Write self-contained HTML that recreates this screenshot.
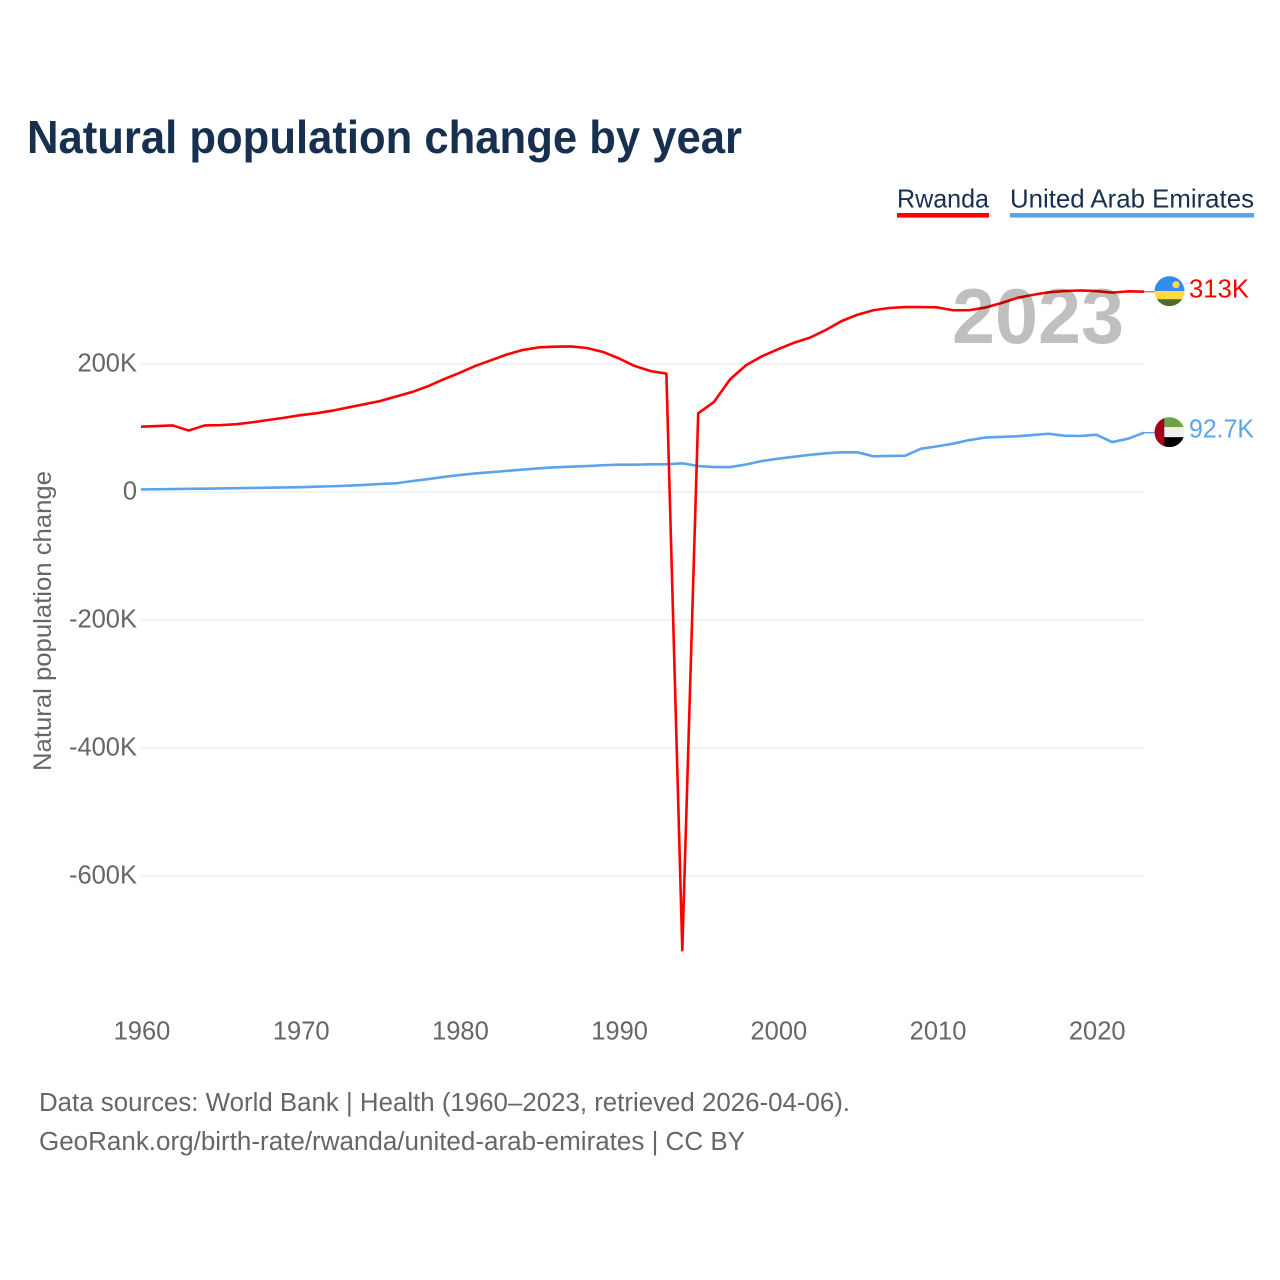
<!DOCTYPE html>
<html lang="en">
<head>
<meta charset="utf-8">
<title>Natural population change by year</title>
<style>
html,body{margin:0;padding:0;background:#fff;width:1280px;height:1280px;overflow:hidden}
svg{display:block}
text{font-family:"Liberation Sans",sans-serif}
</style>
</head>
<body>
<svg id="chart" xmlns="http://www.w3.org/2000/svg" width="1280" height="1280" viewBox="0 0 1280 1280">
  <text x="27" y="153" font-size="46" font-weight="700" fill="#17304f" textLength="715" lengthAdjust="spacingAndGlyphs">Natural population change by year</text>

  <g>
    <g>
      <text x="897" y="207.5" font-size="26" fill="#17304f" textLength="92" lengthAdjust="spacingAndGlyphs">Rwanda</text>
      <rect x="897" y="213" width="92" height="4.6" fill="#ff0000"/>
    </g>
    <g>
      <text x="1010" y="207.5" font-size="26" fill="#17304f" textLength="244" lengthAdjust="spacingAndGlyphs">United Arab Emirates</text>
      <rect x="1010" y="213" width="244" height="4.6" fill="#5ba4ec"/>
    </g>
  </g>

  <g id="grid"></g>
  <g id="yTicks"></g>
  <g id="xTicks"></g>
  <text transform="translate(51,621) rotate(-90)" text-anchor="middle" font-size="25" fill="#666666" textLength="300" lengthAdjust="spacingAndGlyphs">Natural population change</text>
  <g id="series"></g>

  <text x="952" y="343" font-size="78" font-weight="700" fill="#000000" fill-opacity="0.25" textLength="172" lengthAdjust="spacingAndGlyphs">2023</text>

  <g id="endRwanda">
    <defs>
      <clipPath id="clipFlagR"><circle cx="0" cy="0" r="15"/></clipPath>
      <clipPath id="clipFlagU"><circle cx="0" cy="0" r="15"/></clipPath>
    </defs>
    <g clip-path="url(#clipFlagR)">
      <rect x="-15" y="-15" width="30" height="15" fill="#338af3"/>
      <rect x="-15" y="0" width="30" height="8" fill="#ffda44"/>
      <rect x="-15" y="8" width="30" height="7" fill="#496e2d"/>
      <circle cx="6.5" cy="-6.5" r="3.6" fill="#ffda44"/>
    </g>
  </g>
  <g id="endUae">
    <g clip-path="url(#clipFlagU)">
      <rect x="-15" y="-15" width="30" height="10" fill="#6da544"/>
      <rect x="-15" y="-5" width="30" height="10" fill="#f0f0f0"/>
      <rect x="-15" y="5" width="30" height="10" fill="#000000"/>
      <rect x="-15" y="-15" width="9.8" height="30" fill="#a2001d"/>
    </g>
  </g>

  <text x="39" y="1111" font-size="25.5" fill="#666666" textLength="811" lengthAdjust="spacingAndGlyphs">Data sources: World Bank | Health (1960–2023, retrieved 2026-04-06).</text>
  <text x="39" y="1150" font-size="25.5" fill="#666666" textLength="706" lengthAdjust="spacingAndGlyphs">GeoRank.org/birth-rate/rwanda/united-arab-emirates | CC BY</text>
</svg>
<script>
const years = [1960,1961,1962,1963,1964,1965,1966,1967,1968,1969,1970,1971,1972,1973,1974,1975,1976,1977,1978,1979,1980,1981,1982,1983,1984,1985,1986,1987,1988,1989,1990,1991,1992,1993,1994,1995,1996,1997,1998,1999,2000,2001,2002,2003,2004,2005,2006,2007,2008,2009,2010,2011,2012,2013,2014,2015,2016,2017,2018,2019,2020,2021,2022,2023];
const rwandaValues = [102,103,104,96,104,104.5,106,109,112.5,116,120,123,127,132,137,142,149,156,165,176,186,197,206,215,222,226,227,227.5,225,219,209,197,189,185,-716,123,141,176,198,212,223,233,241,253,267,277,284,287.5,289,289,288.5,284,284,288,295,303,308,312,314,315,314,311.5,313.5,313];
const uaeValues = [4,4.3,4.6,4.9,5.2,5.5,5.9,6.3,6.7,7.1,7.6,8.3,9,9.8,11,12.5,13.5,17,20,23.5,26.5,29,31,33,35,37,38.5,39.5,40.5,41.8,42.7,42.7,43.2,43.2,44.8,40.6,39,39,43,48.4,52,55,58,60.4,62,62,55.8,56.3,56.7,67.7,71.3,75.5,81,85,86,87,89,91,88,87.5,89.5,78,83.3,92.7];
const yTickValues = [200,0,-200,-400,-600];
const yTickLabels = ["200K","0","-200K","-400K","-600K"];
const xTickValues = [1960,1970,1980,1990,2000,2010,2020];
const endLabels = ["313K","92.7K"];

const SVGNS = "http://www.w3.org/2000/svg";
function xScale(year){ return 141 + (year - 1960) * (1144 - 141) / 63; }
function yScale(value){ return 492 - value * 0.64; }
function make(tag, parent, attrs){
  const el = document.createElementNS(SVGNS, tag);
  for (const k in attrs) el.setAttribute(k, attrs[k]);
  parent.appendChild(el);
  return el;
}

const gridG = document.getElementById("grid");
const yG = document.getElementById("yTicks");
yTickValues.forEach(function(v, i){
  const line = make("line", gridG, {x1:141, x2:1144, y1:yScale(v), y2:yScale(v), stroke:"#eeeeee", "stroke-width":1.4});
  
  
  const t = make("text", yG, {x:137, y:yScale(v) + 7.5, "text-anchor":"end", "font-size":25.5, fill:"#666666"});
  
  
  t.textContent = yTickLabels[i];
});

const xG = document.getElementById("xTicks");
xTickValues.forEach(function(v){
  const t = make("text", xG, {x:xScale(v) + 1, y:1039.5, "text-anchor":"middle", "font-size":25.5, fill:"#666666"});
  
  
  t.textContent = v;
});

function pathFor(values){
  return values.map(function(v, i){
    return (i ? "L" : "M") + xScale(years[i]).toFixed(2) + " " + yScale(v).toFixed(2);
  }).join("");
}
const seriesG = document.getElementById("series");
const uaeLine = make("path", seriesG, {d:pathFor(uaeValues), fill:"none", stroke:"#5ba4ec", "stroke-width":2.6, "stroke-linejoin":"round"});


const rwandaLine = make("path", seriesG, {d:pathFor(rwandaValues), fill:"none", stroke:"#ff0000", "stroke-width":2.6, "stroke-linejoin":"round"});



const lastYear = years[years.length - 1];
const rY = yScale(rwandaValues[rwandaValues.length - 1]);
const uY = yScale(uaeValues[uaeValues.length - 1]);

const leadR = make("line", seriesG, {x1:xScale(lastYear), x2:1155, y1:rY, y2:rY, stroke:"#ff0000", "stroke-width":1.4, "stroke-opacity":0.6});


const leadU = make("line", seriesG, {x1:xScale(lastYear), x2:1155, y1:uY, y2:uY, stroke:"#5ba4ec", "stroke-width":1.4});



const endR = document.getElementById("endRwanda");
const endU = document.getElementById("endUae");
endR.setAttribute("transform", "translate(1169.5," + (rY - 0.5) + ")");
endU.setAttribute("transform", "translate(1169.5," + (uY - 0.5) + ")");

const labR = make("text", endR, {x:19.5, y:6.5, "font-size":25.5, fill:"#ff0000", textLength:60, lengthAdjust:"spacingAndGlyphs"});


labR.textContent = endLabels[0];
const labU = make("text", endU, {x:19.5, y:5.5, "font-size":25.5, fill:"#5ba4ec", textLength:65, lengthAdjust:"spacingAndGlyphs"});


labU.textContent = endLabels[1];
</script>
</body>
</html>
